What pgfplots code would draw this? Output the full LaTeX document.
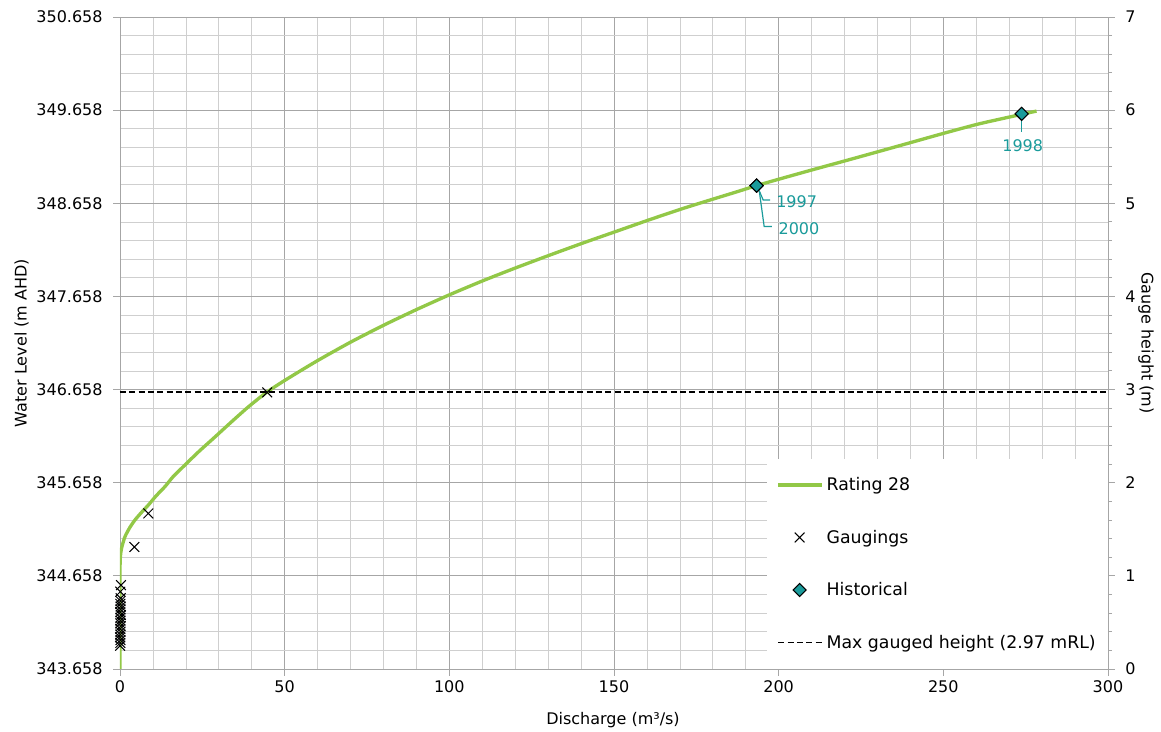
\documentclass[border=0pt]{standalone}
\usepackage{pgfplots}
\pgfplotsset{compat=1.18}
\usepackage{fontspec}
\setmainfont{DejaVu Sans}
\definecolor{rgreen}{HTML}{92C847}
\definecolor{tealc}{HTML}{1A9B9B}
\definecolor{gmaj}{HTML}{A6A6A6}
\definecolor{gmin}{HTML}{CFCFCF}
\pgfplotsset{
  greenleg/.style={legend image code/.code={\draw[rgreen, line width=2.5pt] (0pt,0pt) -- (33pt,0pt);}},
  dashleg/.style={legend image code/.code={\draw[black, line width=1.3pt, dash pattern=on 4.5pt off 2.5pt] (0pt,0pt) -- (33pt,0pt);}},
  markleg/.style={legend image code/.code={\draw[##1] plot coordinates {(16pt,0pt)};}},
}
\pgfplotstableread{
Q GH
0 0
0 1.0
0.1 1.2
0.5 1.3
1.5 1.42
3 1.52
4.55 1.60
6.5 1.68
8.6 1.76
11 1.86
13.7 1.96
16 2.06
18.7 2.155
23.8 2.33
28.8 2.49
33.9 2.655
39 2.815
44.5 2.97
50.1 3.10
59.7 3.305
69.8 3.505
80 3.69
90.1 3.86
100.2 4.02
110.3 4.17
120.4 4.31
130.6 4.445
140.7 4.575
150.8 4.70
160.9 4.825
171 4.945
181 5.055
187 5.12
193.3 5.19
200.4 5.262
210.5 5.362
220.6 5.46
230.8 5.56
240.9 5.66
251 5.76
261.1 5.855
273.8 5.955
278.3 5.99
}\rating
\pgfplotstableread{
Q GH
44.7 2.97
8.6 1.67
4.35 1.31
0.3 0.90
0.1 0.83
0.2 0.76
0.15 0.73
0.1 0.70
0.2 0.67
0.15 0.64
0.1 0.61
0.25 0.58
0.1 0.55
0.15 0.52
0.1 0.49
0.2 0.46
0.1 0.43
0.15 0.40
0.1 0.37
0.05 0.34
0.15 0.31
0.1 0.28
0.05 0.25
}\gaugings
\pgfplotstableread{
Q GH
193.3 5.19
193.3 5.19
273.8 5.96
}\historical
\begin{document}
\begin{tikzpicture}
\begin{axis}[
  scale only axis, width=741pt, height=489pt,
  xmin=0, xmax=300, ymin=0, ymax=7,
  xtick={0,50,...,300}, minor x tick num=4,
  ytick={0,1,2,3,4,5,6,7},
  yticklabels={343.658,344.658,345.658,346.658,347.658,348.658,349.658,350.658},
  minor y tick num=4,
  grid=both,
  major grid style={draw=gmaj, line width=0.7pt},
  minor grid style={draw=gmin, line width=0.5pt},
  axis x line*=bottom, axis y line*=left,
  axis line style={draw=gmaj, line width=0.7pt, -},
  tick align=outside, major tick length=5pt, minor tick length=0pt,
  tick style={gmaj, line width=0.7pt},
  ticklabel style={font=\fontsize{12}{14}\selectfont},
  yticklabel style={xshift=-4.5pt},
  /pgf/number format/assume math mode=true,
  xlabel={Discharge (m³/s)},
  ylabel={Water Level (m AHD)},
  label style={font=\fontsize{12}{14}\selectfont},
  xlabel style={at={(axis description cs:0.499,-0.0782)}, anchor=center},
  ylabel style={at={(axis description cs:-0.0997,0.5)}, anchor=center},
  legend style={at={(rel axis cs:1,0)}, anchor=south east, draw=none, fill=white,
    font=\fontsize{13}{15}\selectfont, row sep=24pt, inner xsep=7pt, inner ysep=12pt,
    cells={anchor=west}},
]
\addplot[rgreen, line width=2.5pt, smooth, tension=0.4, greenleg] table[x=Q,y=GH]{\rating};
\addlegendentry{Rating 28}
\addplot[only marks, mark=x, mark size=5.2pt, black, line width=0.75pt, markleg] table[x=Q,y=GH]{\gaugings};
\addlegendentry{Gaugings}
\addplot[only marks, mark=square*, mark size=3.5pt, mark options={rotate=45, fill=tealc, draw=black, line width=0.8pt}, markleg] table[x=Q,y=GH]{\historical};
\addlegendentry{Historical}
\addplot[black, line width=1.3pt, dash pattern=on 4.5pt off 2.5pt, dashleg] coordinates {(0,2.97) (300,2.97)};
\addlegendentry{Max gauged height (2.97 mRL)}
\draw[tealc, line width=0.9pt] (axis cs:194.1,5.135) -- (axis cs:195.3,5.035) -- (axis cs:197.4,5.035);
\draw[tealc, line width=0.9pt] (axis cs:194.1,5.135) -- (axis cs:195.6,4.75) -- (axis cs:197.9,4.75);
\node[tealc, anchor=west, inner sep=0pt, font=\fontsize{12}{14}\selectfont] at (axis cs:199.2,5.017) {1997};
\node[tealc, anchor=west, inner sep=0pt, font=\fontsize{12}{14}\selectfont] at (axis cs:199.9,4.73) {2000};
\draw[tealc, line width=0.9pt] (axis cs:273.8,5.91) -- (axis cs:273.8,5.77);
\node[tealc, anchor=center, inner sep=0pt, font=\fontsize{12}{14}\selectfont] at (axis cs:274.1,5.62) {1998};
\end{axis}
\begin{axis}[
  scale only axis, width=741pt, height=489pt,
  xmin=0, xmax=300, ymin=0, ymax=7,
  axis x line=none, axis y line*=right,
  ytick={0,1,2,3,4,5,6,7}, minor y tick num=4,
  axis line style={draw=gmaj, line width=0.7pt, -},
  tick align=outside, major tick length=5pt, minor tick length=3pt,
  tick style={gmaj, line width=0.7pt},
  ticklabel style={font=\fontsize{12}{14}\selectfont},
  yticklabel style={xshift=4.5pt},
  /pgf/number format/assume math mode=true,
  ylabel={Gauge height (m)},
  label style={font=\fontsize{12}{14}\selectfont},
  ylabel style={at={(axis description cs:1.0385,0.5)}, anchor=center, rotate=180},
]
\end{axis}
\pgfresetboundingbox
\path[use as bounding box] (-90pt,-47.25pt) rectangle (780.75pt,501.75pt);
\end{tikzpicture}
\end{document}
